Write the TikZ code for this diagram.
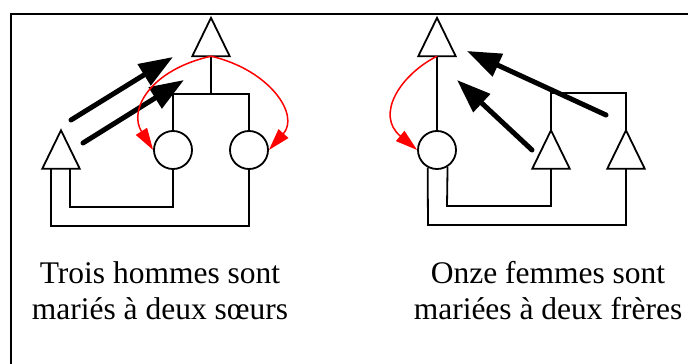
\documentclass[tikz,border=0pt]{standalone}
\usepackage{fontspec}
\setmainfont{Liberation Serif}
\newfontfamily\capfont{Liberation Serif}
\usetikzlibrary{arrows.meta,calc}
\tikzset{
  line/.style={line width=1.8pt, black},
  tribox/.style={draw=none, inner sep=0pt, minimum width=37pt, minimum height=38pt},
  personc/.style={circle, draw, line width=1.8pt, inner sep=0pt, minimum size=38pt},
  bigarrow/.style={line width=5pt, line cap=round, -{Triangle[length=34pt,width=24pt]}},
  redarrow/.style={line width=1.5pt, red, -{Triangle[length=22pt,width=13pt]}},
  frame/.style={line width=2.5pt},
  caption/.style={align=center, font=\capfont\fontsize{31.5}{36}\selectfont, inner sep=0pt}
}
\newcommand\mytri[2]{\node[tribox] (#1) at (#2) {};
  \draw[line] (#1.north) -- (#1.south east) -- (#1.south west) -- cycle;}
\begin{document}
\begin{tikzpicture}[x=1pt,y=-1pt]
\useasboundingbox (0,0) rectangle (688,364);
% frame
\draw[frame] (11,364) -- (11,14) -- (688,14);

% ---------- left panel ----------
\mytri{f1}{211,37}
\mytri{m1}{61,149.5}
\node[personc] (c1) at (173,150) {};
\node[personc] (c2) at (249,150) {};
\coordinate (j1) at (211,94);
\draw[line] (f1.south) -- (j1);
\draw[line] (c1.north) |- (j1) -| (c2.north);
\draw[line] ([xshift=9pt]m1.south) -- ++(0,38) -| (c1.south);
\draw[line] ([xshift=-10pt]m1.south) -- ++(0,57) -| (c2.south);
\coordinate (a1s) at (71,120);  \coordinate (a1e) at (173,57);
\coordinate (a2s) at (83,143);  \coordinate (a2e) at (184,80);
\draw[bigarrow] (a1s) -- (a1e);
\draw[bigarrow] (a2s) -- (a2e);
\draw[redarrow] (f1.south) .. controls (150,70) and (128,110) .. (c1.west);
\draw[redarrow] (f1.south) .. controls (270,70) and (300,115) .. (c2.east);

% ---------- right panel ----------
\mytri{f2}{437,37}
\node[personc] (c3) at (437,150) {};
\mytri{b1}{551,149.5}
\mytri{b2}{626,149.5}
\draw[line] (f2.south) -- (c3.north);
\draw[line] (b1.north) -- ++(0,-37) -| (b2.north);
\draw[line] (c3.-58) -- (447,206) -| (b1.south);
\draw[line] (c3.-118) -- (428,225) -| (b2.south);
\coordinate (a3s) at (532,150); \coordinate (a3e) at (457,80);
\coordinate (a4s) at (606,115); \coordinate (a4e) at (467,51);
\draw[bigarrow] (a3s) -- (a3e);
\draw[bigarrow] (a4s) -- (a4e);
\draw[redarrow] (f2.south) .. controls (400,75) and (375,115) .. (c3.west);

% ---------- captions ----------
\node[caption, anchor=base] (t1) at (160,319) {Trois hommes sont\\mariés à deux sœurs};
\node[caption, anchor=base] (t2) at (548,319) {Onze femmes sont\\mariées à deux frères};
\end{tikzpicture}
\end{document}
